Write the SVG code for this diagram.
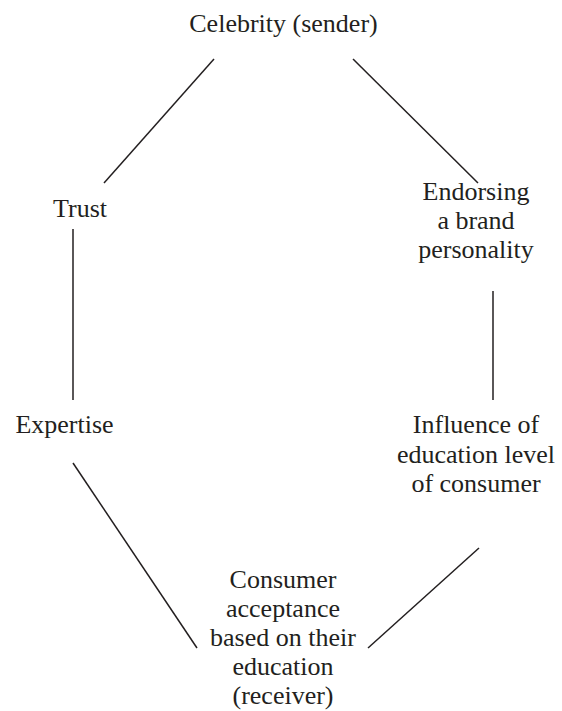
<svg xmlns="http://www.w3.org/2000/svg" width="562" height="711" viewBox="0 0 562 711">
<style>
text{font-family:'Liberation Serif','Times New Roman',serif;font-size:26px;fill:#231f20;text-anchor:middle}
line{stroke:#231f20;stroke-width:1.5}
</style>
<rect width="562" height="711" fill="#fff"/>
<g id="connectors">
<line x1="214" y1="59" x2="104" y2="183"/>
<line x1="353" y1="59" x2="478" y2="183"/>
<line x1="73" y1="229" x2="73" y2="400"/>
<line x1="493" y1="291" x2="493" y2="400"/>
<line x1="73" y1="463" x2="197" y2="648"/>
<line x1="479" y1="548" x2="368" y2="648"/>
</g>
<g id="celebrity"><text x="283.5" y="32">Celebrity (sender)</text></g>
<g id="trust"><text x="80" y="217">Trust</text></g>
<g id="endorsing"><text x="476" y="200">Endorsing</text><text x="476" y="229">a brand</text><text x="476" y="258">personality</text></g>
<g id="expertise"><text x="64.5" y="433">Expertise</text></g>
<g id="influence"><text x="476" y="433">Influence of</text><text x="476" y="463">education level</text><text x="476" y="492">of consumer</text></g>
<g id="consumer"><text x="283" y="588">Consumer</text><text x="283" y="617">acceptance</text><text x="283" y="646">based on their</text><text x="283" y="675">education</text><text x="283" y="704">(receiver)</text></g>
</svg>
